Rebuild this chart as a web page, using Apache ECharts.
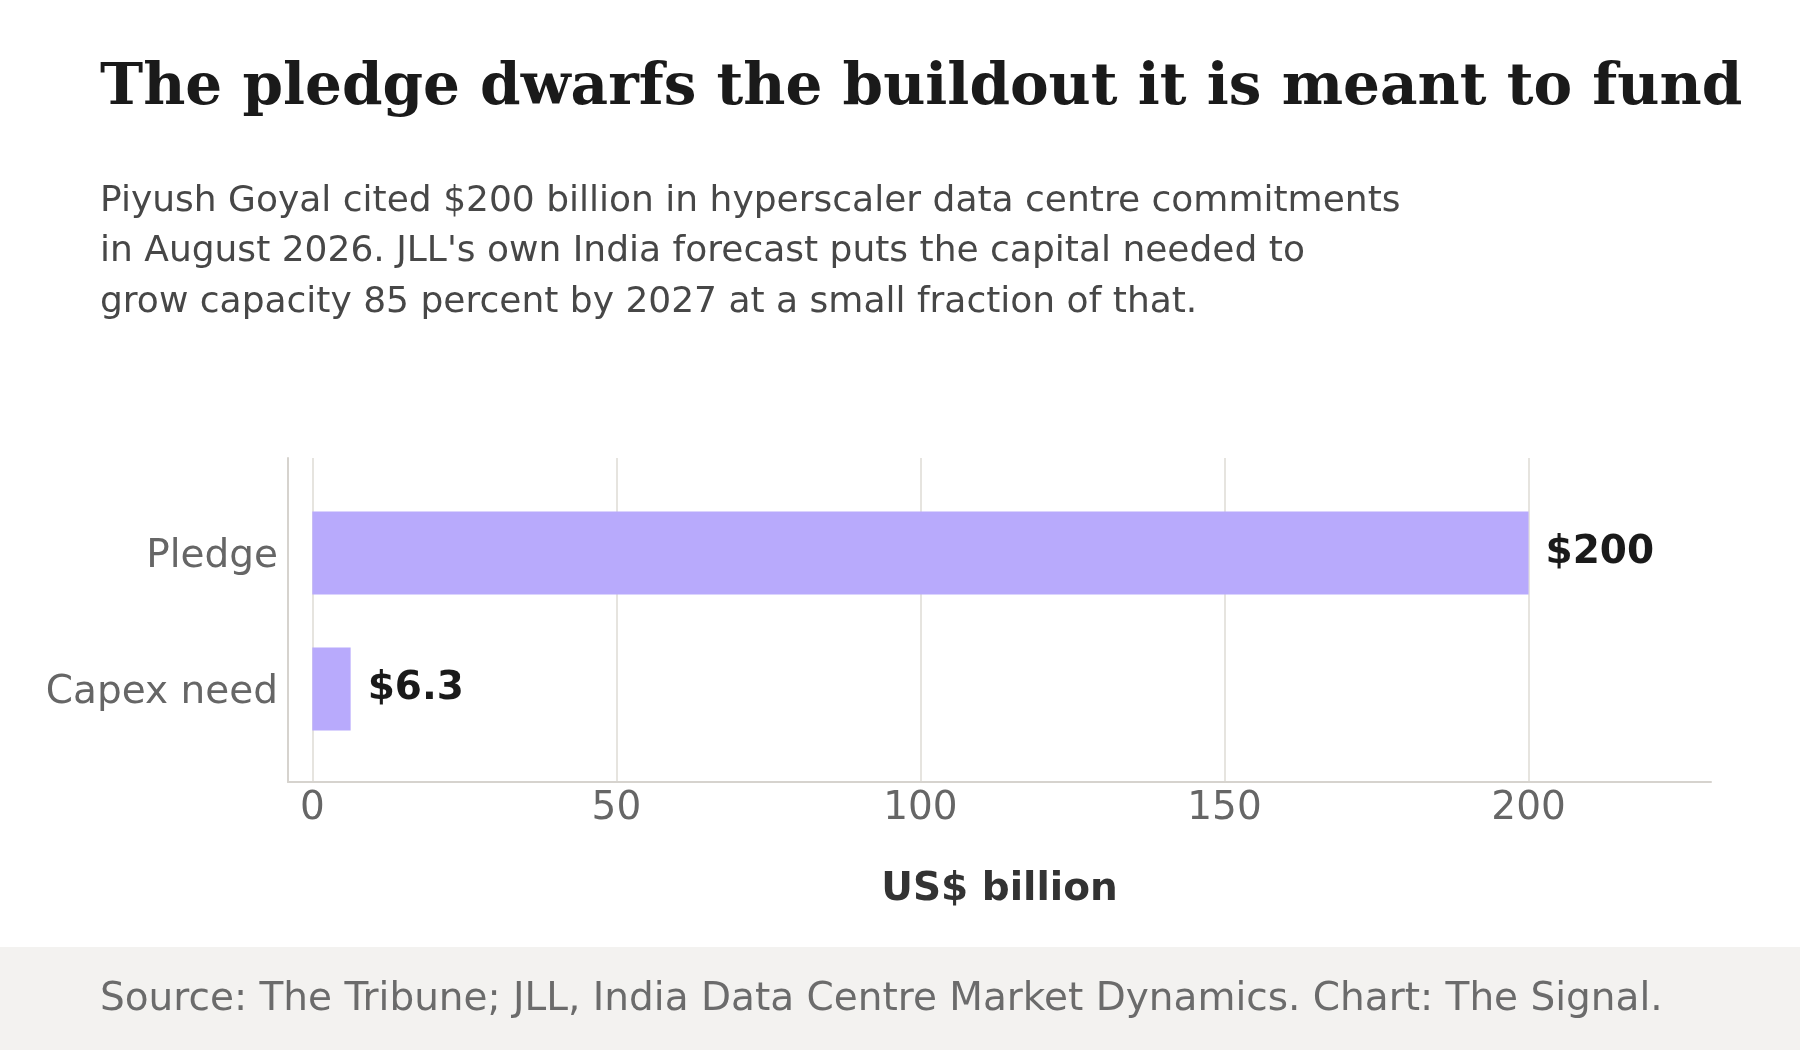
<!DOCTYPE html>
<html>
<head>
<meta charset="utf-8">
<style>html,body{margin:0;padding:0;background:#fff;}#c{width:1800px;height:1050px;}</style>
<script src="https://cdn.jsdelivr.net/npm/echarts@6/dist/echarts.min.js"></script>
</head>
<body>
<div id="c"></div>
<script>
const categories = ['Pledge', 'Capex need'];
const values = [200, 6.3];
const xTicks = [0, 50, 100, 150, 200];
const titleText = 'The pledge dwarfs the buildout it is meant to fund';
const subtitleText = "Piyush Goyal cited $200 billion in hyperscaler data centre commitments\nin August 2026. JLL's own India forecast puts the capital needed to\ngrow capacity 85 percent by 2027 at a small fraction of that.";
const sourceText = 'Source: The Tribune; JLL, India Data Centre Market Dynamics. Chart: The Signal.';
const axisName = 'US$ billion';

const chart = echarts.init(document.getElementById('c'), null, {renderer: 'canvas'});
const sans = 'DejaVu Sans';
chart.setOption({
  backgroundColor: '#ffffff',
  animation: false,
  graphic: [
    {type: 'rect', left: 0, top: 947, shape: {width: 1800, height: 103}, style: {fill: '#f3f2f0'}, z: -10}
  ],
  title: [
    {text: titleText, left: 100, top: 59, padding: 0, textStyle: {fontFamily: 'DejaVu Serif', fontWeight: 'bold', fontSize: 58, color: '#1a1a1a', lineHeight: 60}},
    {text: subtitleText, left: 100, top: 176, padding: 0, textStyle: {fontFamily: sans, fontWeight: 'normal', fontSize: 36, color: '#474747', lineHeight: 50.5}},
    {text: sourceText, left: 100, top: 980, padding: 0, textStyle: {fontFamily: sans, fontWeight: 'normal', fontSize: 39, color: '#6b6b6b', lineHeight: 40}}
  ],
  grid: [
    {left: 288, right: 89, top: 458, bottom: 268},
    {left: 288, right: 89, top: 485, bottom: 293}
  ],
  xAxis: [
    {
      gridIndex: 0, type: 'value', min: -4, max: 230,
      axisLine: {show: true, onZero: false, lineStyle: {color: '#d6d3ce', width: 2}},
      axisTick: {show: false, customValues: xTicks},
      axisLabel: {customValues: xTicks, fontFamily: sans, fontSize: 39, color: '#666666', margin: 7},
      splitLine: {show: true, lineStyle: {color: '#e6e4df', width: 2}},
      name: axisName, nameLocation: 'middle', nameGap: 88,
      nameTextStyle: {fontFamily: sans, fontWeight: 'bold', fontSize: 39, color: '#333333'}
    },
    {gridIndex: 1, type: 'value', min: -4, max: 230, show: false}
  ],
  yAxis: [
    {
      gridIndex: 0, type: 'value', min: 0, max: 1,
      axisLine: {show: true, onZero: false, lineStyle: {color: '#d6d3ce', width: 2}},
      axisTick: {show: false}, axisLabel: {show: false}, splitLine: {show: false}
    },
    {
      gridIndex: 1, type: 'category', data: categories, inverse: true,
      axisLine: {show: false}, axisTick: {show: false},
      axisLabel: {
        margin: 10, formatter: '{c|{value}}',
        rich: {c: {fontFamily: sans, fontSize: 39, color: '#666666', padding: [7, 0, 0, 0]}}
      }
    }
  ],
  series: [{
    type: 'bar', xAxisIndex: 1, yAxisIndex: 1,
    data: values, barWidth: 83,
    itemStyle: {color: '#b8aafc'},
    label: {show: true, position: 'right', distance: 17, formatter: p => '$' + p.value,
      fontFamily: sans, fontWeight: 'bold', fontSize: 39, color: '#1a1a1a'}
  }]
});
</script>
</body>
</html>
